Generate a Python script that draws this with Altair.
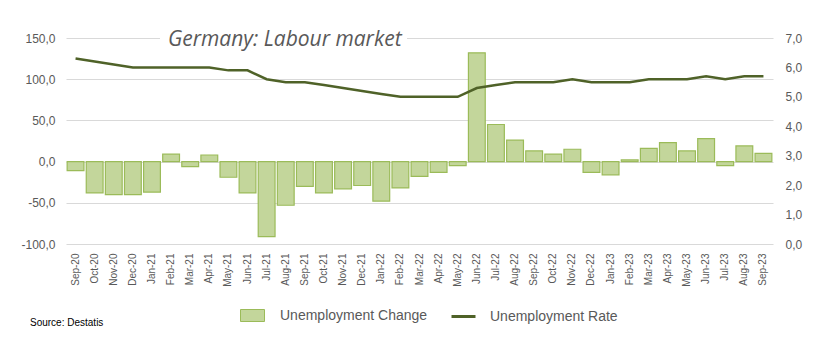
import altair as alt
import pandas as pd

months = ["Sep-20", "Oct-20", "Nov-20", "Dec-20", "Jan-21", "Feb-21", "Mar-21", "Apr-21",
          "May-21", "Jun-21", "Jul-21", "Aug-21", "Sep-21", "Oct-21", "Nov-21", "Dec-21",
          "Jan-22", "Feb-22", "Mar-22", "Apr-22", "May-22", "Jun-22", "Jul-22", "Aug-22",
          "Sep-22", "Oct-22", "Nov-22", "Dec-22", "Jan-23", "Feb-23", "Mar-23", "Apr-23",
          "May-23", "Jun-23", "Jul-23", "Aug-23", "Sep-23"]
change = [-11, -38, -40, -40, -37, 9, -6, 8,
          -19, -38, -91, -53, -30, -38, -33, -29,
          -48, -32, -18, -13, -5, 132, 45, 26,
          13, 9, 15, -13, -16, 2, 16, 23,
          13, 28, -5, 19, 10]
rate = [6.3, 6.2, 6.1, 6.0, 6.0, 6.0, 6.0, 6.0,
        5.9, 5.9, 5.6, 5.5, 5.5, 5.4, 5.3, 5.2,
        5.1, 5.0, 5.0, 5.0, 5.0, 5.3, 5.4, 5.5,
        5.5, 5.5, 5.6, 5.5, 5.5, 5.5, 5.6, 5.6,
        5.6, 5.7, 5.6, 5.7, 5.7]
left_ticks = [-100, -50, 0, 50, 100, 150]
right_ticks = [0, 1, 2, 3, 4, 5, 6, 7]
title_text = ["Germany: Labour market"]
source_text = ["Source: Destatis"]

df = pd.DataFrame({"month": months, "change": change, "rate": rate})

GRAY = "#595959"
FONT = "Liberation Sans"
num_expr = "(datum.value < 0 ? '-' : '') + replace(format(abs(datum.value), '.1f'), '.', ',')"

xenc = alt.X("month:N", sort=months,
             scale=alt.Scale(paddingInner=0.12, paddingOuter=0.06),
             axis=alt.Axis(title=None, labelAngle=-90, labelFontSize=10, labelColor=GRAY,
                           labelFont=FONT, ticks=False, domain=False, labelPadding=9, grid=False))

bars = alt.Chart(df).transform_calculate(series="'Unemployment Change'").mark_bar(
    stroke="#9bbb59", strokeWidth=1.2
).encode(
    x=xenc,
    y=alt.Y("change:Q", scale=alt.Scale(domain=[-100, 150], nice=False),
            axis=alt.Axis(title=None, values=left_ticks, labelExpr=num_expr, grid=True,
                          gridColor="#d9d9d9", ticks=False, domain=False, labelPadding=11,
                          labelFontSize=12, labelColor=GRAY, labelFont=FONT)),
    fill=alt.Fill("series:N", scale=alt.Scale(domain=["Unemployment Change"], range=["#c3d69b"]),
                  legend=alt.Legend(title=None, orient="none", legendX=174, legendY=265,
                                    symbolType="M-1,-0.5H1V0.5H-1Z", symbolSize=576,
                                    symbolStrokeColor="#9bbb59", symbolStrokeWidth=1,
                                    labelFontSize=14, labelColor=GRAY, labelFont=FONT,
                                    labelOffset=15, padding=0)),
)

line = alt.Chart(df).transform_calculate(series="'Unemployment Rate'").mark_line(
    strokeWidth=2.5
).encode(
    x=xenc,
    y=alt.Y("rate:Q", scale=alt.Scale(domain=[0, 7], nice=False),
            axis=alt.Axis(title=None, orient="right", values=right_ticks, labelExpr=num_expr,
                          grid=False, ticks=False, domain=False, labelPadding=12,
                          labelFontSize=12, labelColor=GRAY, labelFont=FONT)),
    stroke=alt.Stroke("series:N", scale=alt.Scale(domain=["Unemployment Rate"], range=["#4f6228"]),
                      legend=alt.Legend(title=None, orient="none", legendX=384, legendY=265,
                                        symbolType="stroke", symbolSize=576, symbolStrokeWidth=3,
                                        labelFontSize=14, labelColor=GRAY, labelFont=FONT,
                                        labelOffset=13, padding=0)),
)

mask = alt.Chart(pd.DataFrame({"t": title_text})).mark_rect(color="white").encode(
    x=alt.value(94), x2=alt.value(341), y=alt.value(-3), y2=alt.value(3)
)

title = alt.Chart(pd.DataFrame({"t": title_text})).mark_text(
    align="left", baseline="alphabetic", font="Open Sans", fontStyle="italic",
    fontSize=21, color=GRAY
).encode(text="t:N", x=alt.value(102), y=alt.value(8))

source = alt.Chart(pd.DataFrame({"t": source_text})).mark_text(
    align="left", baseline="middle", font=FONT, fontSize=10, color="#000000"
).encode(text="t:N", x=alt.value(-36), y=alt.value(285))

chart = alt.layer(bars, line, mask, title, source).resolve_scale(
    y="independent", fill="independent", stroke="independent"
).properties(
    width=707, height=206,
    autosize=alt.AutoSizeParams(type="none"),
    padding={"left": 66, "top": 38, "right": 55, "bottom": 112},
    background="white",
).configure_view(stroke=None)

chart.save("out.html", embed_options={"renderer": "svg", "actions": False})
